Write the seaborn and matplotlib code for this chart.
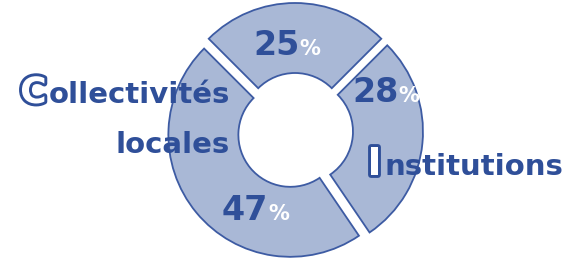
import matplotlib
matplotlib.use("Agg")
import matplotlib.pyplot as plt
import matplotlib.patheffects as pe
import seaborn as sns

shares = [25, 28, 47]
share_labels = ["25", "28", "47"]
names = ["Collectivités\nlocales", "Institutions"]

fill = "#a9b8d6"
edge = "#3d5ba3"
dark = "#2f4f99"

sns.set_theme(style="white")
plt.rcParams['font.family'] = ['DejaVu Sans']

fig = plt.figure(figsize=(5.73, 2.6), dpi=100)
fig.patch.set_facecolor("white")
ax = fig.add_axes([0, 0, 1, 1])

# explode is in data units here (axes in pixel units)
ax.pie(
    shares,
    center=(295, 129),
    radius=122,
    startangle=135,
    counterclock=False,
    explode=[6, 6, 6],
    wedgeprops=dict(width=70, facecolor=fill, edgecolor=edge, linewidth=1.3),
)
ax.set_xlim(0, 573)
ax.set_ylim(0, 260)
ax.set_aspect("equal")
ax.axis("off")

# percentage labels: (left x, baseline y)
pos = [(253, 205), (352, 158), (222, 40)]
for (x, y), lab in zip(pos, share_labels):
    t = ax.text(x, y, lab, ha="left", va="baseline", fontsize=24,
                fontweight="bold", color=dark)
    ax.annotate("%", xy=(1, y), xycoords=(t, "data"), xytext=(0, 0),
                textcoords="offset points", ha="left", va="baseline",
                fontsize=15, fontweight="bold", color="white")

# category labels with outlined first letter
outline = [pe.withStroke(linewidth=4.2, foreground=dark)]
first, second = names[0].split("\n")

t1 = ax.text(230, 157, first[1:], ha="right", va="baseline",
             fontsize=21, fontweight="bold", color=dark)
ax.annotate(first[0], xy=(0, 157), xycoords=(t1, "data"), xytext=(-1.5, 0),
            textcoords="offset points", ha="right", va="baseline",
            fontsize=26, fontweight="bold", color="white", path_effects=outline)
ax.text(230, 107, second, ha="right", va="baseline",
        fontsize=21, fontweight="bold", color=dark)

t2 = ax.text(563, 85, names[1][1:], ha="right", va="baseline",
             fontsize=21, fontweight="bold", color=dark)
ax.annotate(names[1][0], xy=(0, 85), xycoords=(t2, "data"), xytext=(-1.5, 0),
            textcoords="offset points", ha="right", va="baseline",
            fontsize=28, fontweight="bold", color="white", path_effects=outline)

fig.savefig("out.png", dpi=100, facecolor="white")
